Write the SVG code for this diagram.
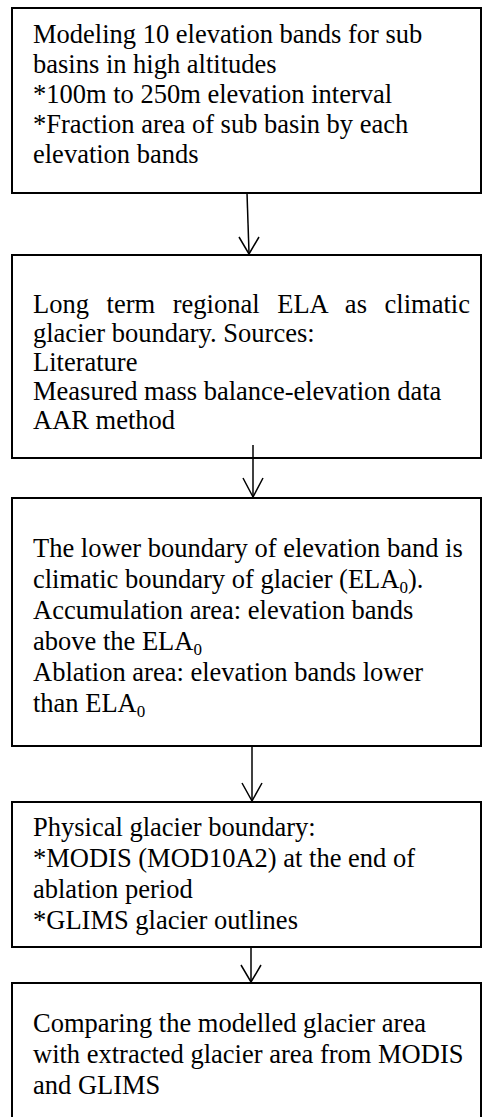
<svg xmlns="http://www.w3.org/2000/svg" width="482" height="1117" viewBox="0 0 482 1117">
<style>
.box{fill:#fff;stroke:#000;stroke-width:2}
.t{font-family:"Liberation Serif","Times New Roman",serif;font-size:26.5px;fill:#000}
.sub{font-size:17px}
.conn{fill:none;stroke:#000;stroke-width:1.5}
</style>
<rect width="482" height="1117" fill="#fff"/>
<g id="node1">
<rect class="box" x="12" y="8" width="469" height="185"/>
<text class="t" x="33" y="43">Modeling 10 elevation bands for sub</text>
<text class="t" x="33" y="73">basins in high altitudes</text>
<text class="t" x="33" y="103">*100m to 250m elevation interval</text>
<text class="t" x="33" y="133">*Fraction area of sub basin by each</text>
<text class="t" x="33" y="163">elevation bands</text>
</g>
<g id="node2">
<rect class="box" x="12" y="255" width="469" height="203"/>
<text class="t" x="33" y="313" word-spacing="11">Long term regional ELA as climatic</text>
<text class="t" x="33" y="342">glacier boundary. Sources:</text>
<text class="t" x="33" y="371">Literature</text>
<text class="t" x="33" y="400">Measured mass balance-elevation data</text>
<text class="t" x="33" y="429">AAR method</text>
</g>
<g id="node3">
<rect class="box" x="12" y="498" width="469" height="248"/>
<text class="t" x="33" y="557">The lower boundary of elevation band is</text>
<text class="t" x="33" y="588">climatic boundary of glacier (ELA<tspan class="sub" dy="5">0</tspan><tspan dy="-5">).</tspan></text>
<text class="t" x="33" y="619">Accumulation area: elevation bands</text>
<text class="t" x="33" y="650">above the ELA<tspan class="sub" dy="5">0</tspan></text>
<text class="t" x="33" y="681">Ablation area: elevation bands lower</text>
<text class="t" x="33" y="712">than ELA<tspan class="sub" dy="5">0</tspan></text>
</g>
<g id="node4">
<rect class="box" x="12" y="802" width="469" height="145"/>
<text class="t" x="33" y="836">Physical glacier boundary:</text>
<text class="t" x="33" y="867">*MODIS (MOD10A2) at the end of</text>
<text class="t" x="33" y="898">ablation period</text>
<text class="t" x="33" y="929">*GLIMS glacier outlines</text>
</g>
<g id="node5">
<rect class="box" x="12" y="983" width="469" height="150"/>
<text class="t" x="33" y="1032">Comparing the modelled glacier area</text>
<text class="t" x="33" y="1063">with extracted glacier area from MODIS</text>
<text class="t" x="33" y="1094">and GLIMS</text>
</g>
<g id="connectors">
<line class="conn" x1="247" y1="193" x2="249" y2="253"/>
<polyline class="conn" points="239,237 249,254 259,237"/>
<line class="conn" x1="253" y1="445" x2="253" y2="497"/>
<polyline class="conn" points="243,478 253,497 263,478"/>
<line class="conn" x1="252" y1="746" x2="252" y2="801"/>
<polyline class="conn" points="242,783 252,801 262,783"/>
<line class="conn" x1="251" y1="947" x2="251" y2="982"/>
<polyline class="conn" points="241,965 251,982 261,965"/>
</g>
</svg>
